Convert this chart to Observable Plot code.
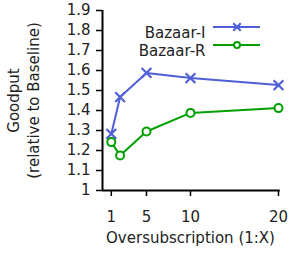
<!DOCTYPE html>
<html>
<head>
<meta charset="utf-8">
<script src="https://cdn.jsdelivr.net/npm/d3@7"></script>
<script src="https://cdn.jsdelivr.net/npm/@observablehq/plot@0.6"></script>
<style>
  html, body { margin: 0; padding: 0; background: #fff; }
  svg { font-family: "DejaVu Sans", Verdana, sans-serif; }
</style>
</head>
<body>
<div id="chart"></div>
<script>
const oversub = [1, 2, 5, 10, 20];
const bazaarI = [1.283, 1.467, 1.588, 1.562, 1.527];
const bazaarR = [1.242, 1.175, 1.295, 1.388, 1.412];
const seriesNames = ["Bazaar-I", "Bazaar-R"];
const seriesColors = ["#4f5fd6", "#00a000"];
const xTicks = [1, 5, 10, 20];
const yTicks = [1, 1.1, 1.2, 1.3, 1.4, 1.5, 1.6, 1.7, 1.8, 1.9];

const data = [];
oversub.forEach((x, i) => {
  data.push({x, y: bazaarI[i], s: seriesNames[0]});
  data.push({x, y: bazaarR[i], s: seriesNames[1]});
});
const dI = data.filter(d => d.s === seriesNames[0]);
const dR = data.filter(d => d.s === seriesNames[1]);

const fs = 15;
const plot = Plot.plot({
  width: 289,
  height: 257,
  marginLeft: 102,
  marginRight: 11,
  marginTop: 10,
  marginBottom: 67,
  style: {fontSize: fs + "px", fontFamily: "DejaVu Sans, Verdana, sans-serif", color: "#222", background: "#fff"},
  x: {domain: [0, 20]},
  y: {domain: [1, 1.9]},
  marks: [
    Plot.axisY({ticks: yTicks, tickFormat: d => d3.format("")(+d.toFixed(1)), tickSize: 6, tickPadding: 6, stroke: "#000", strokeWidth: 1.5, label: null, fontSize: fs, fill: "#222"}),
    Plot.axisX({ticks: xTicks, tickSize: 6, tickPadding: 15, stroke: "#000", strokeWidth: 1.5, label: null, fontSize: fs, fill: "#222"}),
    Plot.ruleX([0], {stroke: "#000", strokeWidth: 2}),
    Plot.ruleY([1], {stroke: "#000", strokeWidth: 2, x1: 0, x2: 20.2}),
    Plot.line(dI, {x: "x", y: "y", stroke: seriesColors[0], strokeWidth: 2}),
    Plot.line(dR, {x: "x", y: "y", stroke: seriesColors[1], strokeWidth: 2}),
    Plot.dot(dI, {x: "x", y: "y", stroke: seriesColors[0], strokeWidth: 2.2, symbol: "times", r: 4.5}),
    Plot.dot(dR, {x: "x", y: "y", stroke: seriesColors[1], strokeWidth: 2, symbol: "circle", r: 4, fill: "#fff"}),
    Plot.text(["Oversubscription (1:X)"], {frameAnchor: "bottom", dy: 52, fontSize: fs, fill: "#222"}),
    Plot.text(["Goodput\n(relative to Baseline)"], {frameAnchor: "left", dx: -80, rotate: -90, textAnchor: "middle", lineAnchor: "middle", lineHeight: 1.35, fontSize: fs, fill: "#222"}),
    Plot.text([seriesNames[0]], {frameAnchor: "top-left", dx: 103, dy: 17, textAnchor: "end", fontSize: fs, fill: "#222"}),
    Plot.text([seriesNames[1]], {frameAnchor: "top-left", dx: 103, dy: 35, textAnchor: "end", fontSize: fs, fill: "#222"})
  ]
});

// legend swatches (line + marker) placed relative to the plot frame
const svg = d3.select(plot);
const fx = 102, fy = 10;
const legendRows = [{dy: 17, color: seriesColors[0], sym: "times"}, {dy: 35, color: seriesColors[1], sym: "circle"}];
legendRows.forEach(r => {
  const g = svg.append("g");
  g.append("line").attr("x1", fx + 111).attr("x2", fx + 158).attr("y1", fy + r.dy).attr("y2", fy + r.dy)
    .attr("stroke", r.color).attr("stroke-width", 2);
  if (r.sym === "times") {
    g.append("path").attr("d", d3.symbol(d3.symbolTimes, Math.PI * 12)()).attr("transform", `translate(${fx + 135},${fy + r.dy})`)
      .attr("stroke", r.color).attr("stroke-width", 2.2).attr("fill", "none");
  } else {
    g.append("circle").attr("cx", fx + 135).attr("cy", fy + r.dy).attr("r", 3).attr("stroke", r.color).attr("stroke-width", 2).attr("fill", "#fff");
  }
});

document.getElementById("chart").appendChild(plot);
</script>
</body>
</html>
